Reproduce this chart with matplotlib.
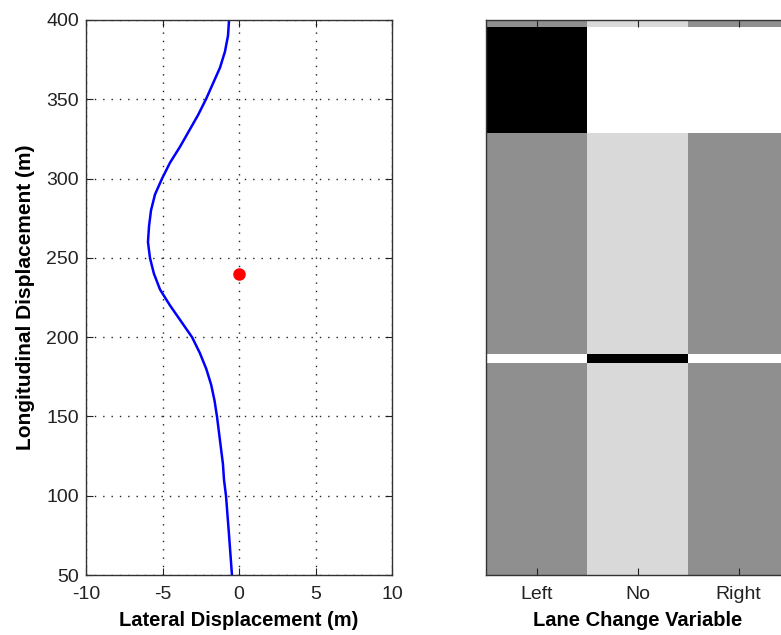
import numpy as np
import matplotlib
matplotlib.use("Agg")
import matplotlib.pyplot as plt

# Planned lateral path (m) against longitudinal position (m)
path_long = [50, 75, 100, 110, 120, 130, 140, 150, 160, 170, 180, 190,
             200, 210, 220, 230, 240, 250, 260, 270, 280, 290, 300, 310, 320,
             330, 340, 350, 360, 370, 380, 390, 400]
path_lat = [-0.46, -0.65, -0.85, -0.98, -1.05, -1.18, -1.31, -1.44, -1.60,
            -1.82, -2.14, -2.56, -3.07, -3.79, -4.51, -5.16, -5.56,
            -5.82, -5.95, -5.88, -5.75, -5.49, -5.03, -4.51, -3.86, -3.27,
            -2.68, -2.16, -1.70, -1.24, -0.92, -0.72, -0.65]

# Obstacle / target point
point_lat = [0.0]
point_long = [240.0]

# Lane change variable map: row boundaries along the road and grey levels
lane_choices = ["Left", "No", "Right"]
row_edges = [50, 183.5, 189.6, 328.5, 395.6, 400]
lane_levels = [
    [0.56, 0.85, 0.56],
    [1.00, 0.00, 1.00],
    [0.56, 0.85, 0.56],
    [0.00, 1.00, 1.00],
    [0.56, 0.85, 0.56],
]

plt.rcParams["font.family"] = ["Liberation Sans", "DejaVu Sans"]
plt.rcParams["axes.unicode_minus"] = False

fig = plt.figure(figsize=(7.81, 6.35), dpi=100)
W, H = 781.0, 635.0

ax1 = fig.add_axes([86 / W, (H - 575) / H, 306 / W, 555 / H])
ax1.plot(path_lat, path_long, color="#0000ff", lw=1.8,
         solid_joinstyle="round")
ax1.plot(point_lat, point_long, "o", color="#ff0000", ms=8, mec="#ff0000")
ax1.set_xlim(-10, 10)
ax1.set_ylim(50, 400)
ax1.set_xticks([-10, -5, 0, 5, 10])
ax1.set_yticks([50, 100, 150, 200, 250, 300, 350, 400])
ax1.grid(True, color="#222222", linestyle=(0, (1, 5)), linewidth=1.0)
ax1.tick_params(direction="in", top=True, right=True, length=5, width=0.8,
                labelsize=14, colors="#222222")
ax1.tick_params(axis="x", pad=8)
ax1.tick_params(axis="y", pad=5)
ax1.set_xlabel("Lateral Displacement (m)", fontsize=14.5, fontweight="bold",
               labelpad=6)
ax1.set_ylabel("Longitudinal Displacement (m)", fontsize=15,
               fontweight="bold", labelpad=8)
for s in ax1.spines.values():
    s.set_color("#333333")
    s.set_linewidth(1.0)

ax2 = fig.add_axes([486 / W, (H - 575) / H, 303 / W, 555 / H])
x_edges = np.arange(len(lane_choices) + 1) - 0.5
ax2.pcolormesh(x_edges, row_edges, np.array(lane_levels), cmap="gray",
               vmin=0, vmax=1, shading="flat")
ax2.set_xlim(-0.5, len(lane_choices) - 0.5)
ax2.set_ylim(50, 400)
ax2.set_xticks(range(len(lane_choices)))
ax2.set_xticklabels(lane_choices)
ax2.set_yticks([])
ax2.tick_params(axis="x", direction="in", top=True, length=5, width=0.8,
                labelsize=14, pad=8, colors="#222222")
ax2.set_xlabel("Lane Change Variable", fontsize=14.5, fontweight="bold",
               labelpad=6)
for s in ax2.spines.values():
    s.set_color("#333333")
    s.set_linewidth(1.0)

fig.savefig("out.png", dpi=100)
